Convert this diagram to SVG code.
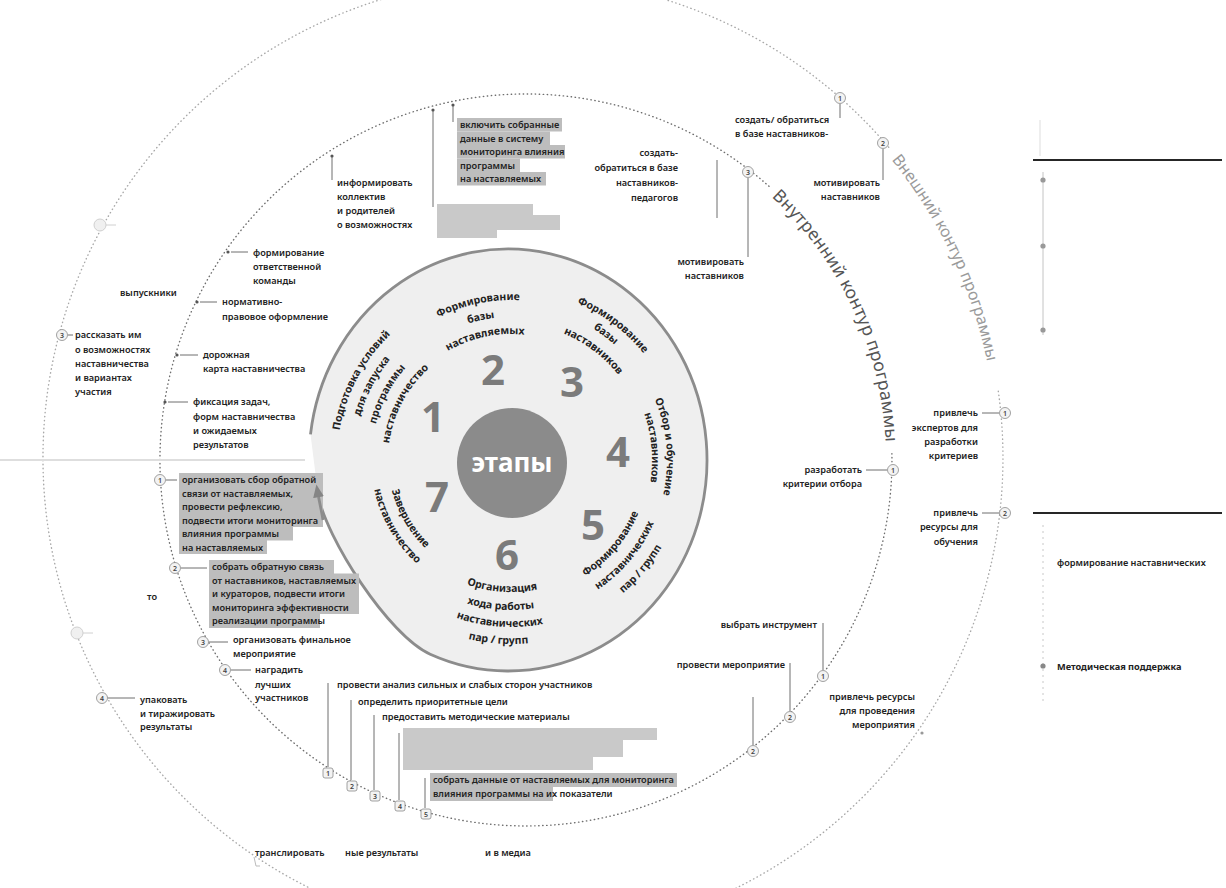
<svg xmlns="http://www.w3.org/2000/svg" width="1226" height="888" viewBox="0 0 1226 888">
<defs>
<style>
text{font-family:'Noto Sans','Open Sans','DejaVu Sans',sans-serif;fill:#222}
.t{font-size:9.2px;font-weight:600}
.e{text-anchor:end}
.st{font-size:10.5px;font-weight:700;text-anchor:middle}
.num{font-size:42px;font-weight:700;fill:#7b7b7b;text-anchor:middle}
.ln{stroke:#6f6f6f;stroke-width:1;fill:none}
.hl{fill:#bdbdbd}
.rd{fill:#c9c9c9}
.cn circle,.cn rect{fill:#f3f3f3;stroke:#8a8a8a;stroke-width:0.8}
.cn text{font-size:7px;font-weight:600;text-anchor:middle;fill:#444}
.dot{fill:#555}
.dotted{fill:none;stroke-linecap:round;stroke-dasharray:0.4 3.6}
.faint{fill:#f0f0f0;stroke:#d0d0d0;stroke-width:1}
</style>
<marker id="ah" viewBox="0 0 12 10" refX="3" refY="5" markerWidth="13" markerHeight="11" markerUnits="userSpaceOnUse" orient="auto">
<path d="M0,0 L12,5 L0,10 Z" fill="#858585"/>
</marker>
<path id="s1a" d="M381.7 576.4 A174 174 0 0 1 535.2 287.7"/>
<path id="s1b" d="M394.3 565.1 A157 157 0 0 1 532.9 304.5"/>
<path id="s1c" d="M407.0 553.7 A140 140 0 0 1 530.5 321.4"/>
<path id="s1d" d="M419.6 542.3 A123 123 0 0 1 528.1 338.2"/>
<path id="s2a" d="M352.6 437.7 A160 160 0 0 1 646.7 375.2"/>
<path id="s2b" d="M369.4 440.1 A143 143 0 0 1 632.3 384.2"/>
<path id="s2c" d="M386.2 442.5 A126 126 0 0 1 617.8 393.2"/>
<path id="s3a" d="M418.4 317.4 A170 170 0 0 1 673.6 509.7"/>
<path id="s3b" d="M426.6 330.0 A155 155 0 0 1 659.2 505.3"/>
<path id="s3c" d="M436.4 345.1 A137 137 0 0 1 642.0 500.1"/>
<path id="s4a" d="M551.4 309.3 A156 156 0 0 1 576.9 601.4"/>
<path id="s4b" d="M547.5 323.8 A141 141 0 0 1 570.6 587.8"/>
<path id="s5a" d="M463.8 589.7 A138 138 0 0 0 630.5 391"/>
<path id="s5b" d="M457.6 606.6 A156 156 0 0 0 646.1 382"/>
<path id="s5c" d="M451.5 623.5 A174 174 0 0 0 661.7 373"/>
<path id="s6a" d="M384.1 496.4 A132 132 0 0 0 631.6 513.7"/>
<path id="s6b" d="M366.8 501.3 A150 150 0 0 0 648.0 521.0"/>
<path id="s6c" d="M350.5 506.0 A167 167 0 0 0 663.6 527.9"/>
<path id="s6d" d="M334.1 510.7 A184 184 0 0 0 679.1 534.8"/>
<path id="s7a" d="M416.8 380.9 A123 123 0 0 0 532.4 581.1"/>
<path id="s7b" d="M403.8 370.0 A140 140 0 0 0 535.3 597.9"/>
<path id="inC" d="M771.5 196.7 A360 360 0 0 1 864.3 583.1"/>
<path id="outC" d="M891.4 159.7 A474 474 0 0 1 968.4 620.1"/>
</defs>

<rect width="1226" height="888" fill="#ffffff"/>

<g id="outer-contour">
<path class="dotted" d="M998.3 391.2 A480 480 0 1 1 890.7 149.5" stroke="#a8a8a8" stroke-width="1.4"/>
<text font-size="16" style="fill:#9a9a9a"><textPath href="#outC">Внешний контур программы</textPath></text>
</g>
<g id="inner-contour">
<path class="dotted" d="M891.9 453.6 A366 366 0 1 1 770.9 188.0" stroke="#6e6e6e" stroke-width="1.4"/>
<text font-size="17.5" letter-spacing="0.3" style="fill:#555"><textPath href="#inC">Внутренний контур программы</textPath></text>
</g>

<line x1="0" y1="460" x2="305" y2="460" stroke="#dedede" stroke-width="2"/>

<g id="stages">
<path d="M310.5 434.3 A199 211 0 1 1 430.2 654.2 C389 636 325 537 318 494 Z" fill="#efefef"/>
<path d="M310.5 434.3 A199 211 0 1 1 430.2 654.2 C389 636 325 537 318 494" fill="none" stroke="#8c8c8c" stroke-width="2.8"/>
<circle cx="512" cy="463" r="55" fill="#8b8b8b"/>
<text x="512" y="472" font-size="26" font-weight="700" text-anchor="middle" style="fill:#fff">этапы</text>
<text class="num" x="433" y="432">1</text>
<text class="num" x="493" y="385">2</text>
<text class="num" x="572" y="397">3</text>
<text class="num" x="618" y="467">4</text>
<text class="num" x="593" y="540">5</text>
<text class="num" x="507" y="570">6</text>
<text class="num" x="437" y="512">7</text>
</g>

<g id="stage-1"><text class="st"><textPath href="#s1a" startOffset="50%">Подготовка условий</textPath></text>
<text class="st"><textPath href="#s1b" startOffset="50%">для запуска</textPath></text>
<text class="st"><textPath href="#s1c" startOffset="50%">программы</textPath></text>
<text class="st"><textPath href="#s1d" startOffset="50%">наставничество</textPath></text></g>
<g id="stage-2"><text class="st"><textPath href="#s2a" startOffset="50%">Формирование</textPath></text>
<text class="st"><textPath href="#s2b" startOffset="50%">базы</textPath></text>
<text class="st"><textPath href="#s2c" startOffset="50%">наставляемых</textPath></text></g>
<g id="stage-3"><text class="st"><textPath href="#s3a" startOffset="50%">Формирование</textPath></text>
<text class="st"><textPath href="#s3b" startOffset="50%">базы</textPath></text>
<text class="st"><textPath href="#s3c" startOffset="50%">наставников</textPath></text></g>
<g id="stage-4"><text class="st"><textPath href="#s4a" startOffset="50%">Отбор и обучение</textPath></text>
<text class="st"><textPath href="#s4b" startOffset="50%">наставников</textPath></text></g>
<g id="stage-5"><text class="st"><textPath href="#s5a" startOffset="50%">Формирование</textPath></text>
<text class="st"><textPath href="#s5b" startOffset="50%">наставнических</textPath></text>
<text class="st"><textPath href="#s5c" startOffset="50%">пар / групп</textPath></text></g>
<g id="stage-6"><text class="st"><textPath href="#s6a" startOffset="50%">Организация</textPath></text>
<text class="st"><textPath href="#s6b" startOffset="50%">хода работы</textPath></text>
<text class="st"><textPath href="#s6c" startOffset="50%">наставнических</textPath></text>
<text class="st"><textPath href="#s6d" startOffset="50%">пар / групп</textPath></text></g>
<g id="stage-7"><text class="st"><textPath href="#s7a" startOffset="50%">Завершение</textPath></text>
<text class="st"><textPath href="#s7b" startOffset="50%">наставничество</textPath></text></g>

<g id="connectors">
<line class="ln" x1="332" y1="157" x2="332" y2="180"/>
<line class="ln" x1="433" y1="111" x2="433" y2="207"/>
<line class="ln" x1="453" y1="106" x2="453" y2="122"/>
<line class="ln" x1="717" y1="160" x2="717" y2="218"/>
<line class="ln" x1="840" y1="104" x2="840" y2="118"/>
<line class="ln" x1="883" y1="149" x2="883" y2="180"/>
<line class="ln" x1="748" y1="178" x2="748" y2="257"/>
<line class="ln" x1="231" y1="252" x2="248" y2="252"/>
<line class="ln" x1="200" y1="302" x2="217" y2="302"/>
<line class="ln" x1="180" y1="355" x2="198" y2="355"/>
<line class="ln" x1="168" y1="402" x2="188" y2="402"/>
<line class="ln" x1="68" y1="335" x2="73" y2="335"/>
<line class="ln" x1="166" y1="480" x2="177" y2="480"/>
<line class="ln" x1="181" y1="568" x2="207" y2="568"/>
<line class="ln" x1="209" y1="642" x2="228" y2="642"/>
<line class="ln" x1="231" y1="670" x2="251" y2="670"/>
<line class="ln" x1="108" y1="698" x2="135" y2="698"/>
<line class="ln" x1="328" y1="683" x2="328" y2="767"/>
<line class="ln" x1="351" y1="700" x2="351" y2="780"/>
<line class="ln" x1="374" y1="715" x2="374" y2="790"/>
<line class="ln" x1="399" y1="733" x2="399" y2="800"/>
<line class="ln" x1="425" y1="778" x2="425" y2="808"/>
<line class="ln" x1="823" y1="623" x2="823" y2="670"/>
<line class="ln" x1="790" y1="663" x2="790" y2="711"/>
<line class="ln" x1="753" y1="697" x2="753" y2="745"/>
<line class="ln" x1="866" y1="470" x2="887" y2="470"/>
<line class="ln" x1="982" y1="413" x2="999" y2="413"/>
<line class="ln" x1="982" y1="513" x2="999" y2="513"/>
<line x1="1033" y1="160" x2="1222" y2="160" stroke="#262626" stroke-width="2"/>
<line x1="1033" y1="513" x2="1222" y2="513" stroke="#262626" stroke-width="2"/>
<line x1="1043" y1="172" x2="1043" y2="335" stroke="#c4c4c4" stroke-width="1"/>
<line x1="1043" y1="525" x2="1043" y2="705" stroke="#c8c8c8" stroke-width="1" stroke-dasharray="2 4"/>
<line x1="1040" y1="120" x2="1040" y2="156" stroke="#dddddd" stroke-width="1"/>
<line x1="106" y1="225" x2="116" y2="225" stroke="#d0d0d0"/>
<line x1="83" y1="633" x2="93" y2="633" stroke="#d0d0d0"/>
<path d="M254 857 L256 866 L260 866" fill="none" stroke="#bbb" stroke-width="1"/>
</g>

<g id="markers">
<circle class="dot" cx="332" cy="156" r="1.6"/>
<circle class="dot" cx="433" cy="110" r="1.6"/>
<circle class="dot" cx="453" cy="105" r="1.6"/>
<circle class="dot" cx="228" cy="252" r="1.6"/>
<circle class="dot" cx="197" cy="302" r="1.6"/>
<circle class="dot" cx="177" cy="355" r="1.6"/>
<circle class="dot" cx="165" cy="402" r="1.6"/>
<circle cx="922" cy="733" r="1.6" fill="#999"/>
<circle cx="1043" cy="180" r="2.6" fill="#999"/>
<circle cx="1043" cy="246" r="2.6" fill="#999"/>
<circle cx="1043" cy="330" r="2.6" fill="#999"/>
<circle cx="1043" cy="666" r="2.6" fill="#888"/>
<circle class="faint" cx="100" cy="225" r="6"/>
<circle class="faint" cx="77" cy="633" r="6"/>
<g class="cn"><circle cx="840" cy="98" r="5.5"/><text x="840" y="100.5">1</text></g>
<g class="cn"><circle cx="883" cy="143" r="5.5"/><text x="883" y="145.5">2</text></g>
<g class="cn"><circle cx="748" cy="172" r="5.5"/><text x="748" y="174.5">3</text></g>
<g class="cn"><circle cx="62" cy="335" r="5.5"/><text x="62" y="337.5">3</text></g>
<g class="cn"><circle cx="160" cy="480" r="5.5"/><text x="160" y="482.5">1</text></g>
<g class="cn"><circle cx="175" cy="568" r="5.5"/><text x="175" y="570.5">2</text></g>
<g class="cn"><circle cx="203" cy="642" r="5.5"/><text x="203" y="644.5">3</text></g>
<g class="cn"><circle cx="225" cy="670" r="5.5"/><text x="225" y="672.5">4</text></g>
<g class="cn"><circle cx="102" cy="698" r="5.5"/><text x="102" y="700.5">4</text></g>
<g class="cn"><rect x="323" y="768" width="10" height="10" rx="2"/><text x="328" y="775.5">1</text></g>
<g class="cn"><rect x="347" y="781" width="10" height="10" rx="2"/><text x="352" y="788.5">2</text></g>
<g class="cn"><rect x="370" y="791" width="10" height="10" rx="2"/><text x="375" y="798.5">3</text></g>
<g class="cn"><rect x="395" y="801" width="10" height="10" rx="2"/><text x="400" y="808.5">4</text></g>
<g class="cn"><rect x="421" y="809" width="10" height="10" rx="2"/><text x="426" y="816.5">5</text></g>
<g class="cn"><circle cx="823" cy="676" r="5.5"/><text x="823" y="678.5">1</text></g>
<g class="cn"><circle cx="790" cy="717" r="5.5"/><text x="790" y="719.5">2</text></g>
<g class="cn"><circle cx="753" cy="751" r="5.5"/><text x="753" y="753.5">2</text></g>
<g class="cn"><circle cx="893" cy="470" r="5.5"/><text x="893" y="472.5">1</text></g>
<g class="cn"><circle cx="1005" cy="413" r="5.5"/><text x="1005" y="415.5">1</text></g>
<g class="cn"><circle cx="1005" cy="513" r="5.5"/><text x="1005" y="515.5">2</text></g>
</g>

<g id="redacted">
<path class="rd" d="M437 204 H533 V215 H560 V230 H497 V238 H437 Z"/>
<path class="rd" d="M403 728 H657 V740 H623 V757 H593 V770 H403 Z"/>
</g>

<g id="n-inform"><text class="t" x="337" y="186"><tspan x="337">информировать</tspan><tspan x="337" dy="14">коллектив</tspan><tspan x="337" dy="14">и родителей</tspan><tspan x="337" dy="14">о возможностях</tspan></text></g>

<g id="n-include">
<rect class="hl" x="457" y="118" width="105" height="13.5"/>
<rect class="hl" x="457" y="131.5" width="93" height="13.5"/>
<rect class="hl" x="457" y="145" width="108" height="13.5"/>
<rect class="hl" x="457" y="158.5" width="63" height="13.5"/>
<rect class="hl" x="457" y="172" width="89" height="13.5"/>
<text class="t" x="460" y="128"><tspan x="460">включить собранные</tspan><tspan x="460" dy="13.5">данные в систему</tspan><tspan x="460" dy="13.5">мониторинга влияния</tspan><tspan x="460" dy="13.5">программы</tspan><tspan x="460" dy="13.5">на наставляемых</tspan></text>
</g>

<g id="n-create-inner"><text class="t e" x="678" y="156"><tspan x="678">создать-</tspan><tspan x="678" dy="15">обратиться в базе</tspan><tspan x="678" dy="15">наставников-</tspan><tspan x="678" dy="15">педагогов</tspan></text></g>
<g id="n-create-outer"><text class="t" x="735" y="123"><tspan x="735">создать/ обратиться</tspan><tspan x="735" dy="14">в базе наставников-</tspan></text></g>
<g id="n-motivate-outer"><text class="t e" x="880" y="186"><tspan x="880">мотивировать</tspan><tspan x="880" dy="14">наставников</tspan></text></g>
<g id="n-motivate-inner"><text class="t e" x="744" y="265"><tspan x="744">мотивировать</tspan><tspan x="744" dy="14">наставников</tspan></text></g>

<g id="n-team"><text class="t" x="253" y="256"><tspan x="253">формирование</tspan><tspan x="253" dy="14">ответственной</tspan><tspan x="253" dy="14">команды</tspan></text></g>
<g id="n-norm"><text class="t" x="222" y="305"><tspan x="222">нормативно-</tspan><tspan x="222" dy="15">правовое оформление</tspan></text></g>
<g id="n-road"><text class="t" x="203" y="358"><tspan x="203">дорожная</tspan><tspan x="203" dy="14">карта наставничества</tspan></text></g>
<g id="n-fix"><text class="t" x="193" y="405"><tspan x="193">фиксация задач,</tspan><tspan x="193" dy="14.5">форм наставничества</tspan><tspan x="193" dy="14">и ожидаемых</tspan><tspan x="193" dy="14">результатов</tspan></text></g>
<g id="n-grad"><text class="t" x="120" y="296">выпускники</text></g>
<g id="n-tell"><text class="t" x="75" y="338"><tspan x="75">рассказать им</tspan><tspan x="75" dy="14.5">о возможностях</tspan><tspan x="75" dy="14">наставничества</tspan><tspan x="75" dy="14">и вариантах</tspan><tspan x="75" dy="14">участия</tspan></text></g>

<g id="n-feedback1">
<path class="hl" d="M179 473 H323 V527 H293 V540.5 H267 V554 H179 Z"/>
<text class="t" x="182" y="483"><tspan x="182">организовать сбор обратной</tspan><tspan x="182" dy="13.6">связи от наставляемых,</tspan><tspan x="182" dy="13.6">провести рефлексию,</tspan><tspan x="182" dy="13.6">подвести итоги мониторинга</tspan><tspan x="182" dy="13.6">влияния программы</tspan><tspan x="182" dy="13.6">на наставляемых</tspan></text>
</g>
<g id="n-feedback2">
<path class="hl" d="M209 560 H334 V573.5 H359 V614 H320 V628 H209 Z"/>
<text class="t" x="212" y="570"><tspan x="212">собрать обратную связь</tspan><tspan x="212" dy="13.6">от наставников, наставляемых</tspan><tspan x="212" dy="13.6">и кураторов, подвести итоги</tspan><tspan x="212" dy="13.6">мониторинга эффективности</tspan><tspan x="212" dy="13.6">реализации программы</tspan></text>
</g>
<g id="n-final"><text class="t" x="233" y="643"><tspan x="233">организовать финальное</tspan><tspan x="233" dy="14">мероприятие</tspan></text></g>
<g id="n-award"><text class="t" x="255" y="673"><tspan x="255">наградить</tspan><tspan x="255" dy="14.5">лучших</tspan><tspan x="255" dy="13.5">участников</tspan></text></g>
<g id="n-to"><text class="t" x="147" y="600">то</text></g>
<g id="n-pack"><text class="t" x="140" y="703"><tspan x="140">упаковать</tspan><tspan x="140" dy="13.5">и тиражировать</tspan><tspan x="140" dy="13">результаты</tspan></text></g>

<g id="n-analysis"><text class="t" x="337" y="688">провести анализ сильных и слабых сторон участников</text></g>
<g id="n-goals"><text class="t" x="358" y="705">определить приоритетные цели</text></g>
<g id="n-materials"><text class="t" x="382" y="720">предоставить методические материалы</text></g>
<g id="n-collect">
<path class="hl" d="M430 773 H677 V787 H553 V801 H430 Z"/>
<text class="t" x="433" y="783"><tspan x="433">собрать данные от наставляемых для мониторинга</tspan><tspan x="433" dy="14">влияния программы на их показатели</tspan></text>
</g>
<g id="n-broadcast"><text class="t" x="255" y="856">транслировать</text><text class="t" x="345" y="856">ные результаты</text><text class="t" x="485" y="856">и в медиа</text></g>

<g id="n-tool"><text class="t e" x="817" y="628">выбрать инструмент</text></g>
<g id="n-event"><text class="t e" x="785" y="668">провести мероприятие</text></g>
<g id="n-resources-event"><text class="t e" x="915" y="700"><tspan x="915">привлечь ресурсы</tspan><tspan x="915" dy="14">для проведения</tspan><tspan x="915" dy="14">мероприятия</tspan></text></g>
<g id="n-criteria"><text class="t e" x="862" y="473"><tspan x="862">разработать</tspan><tspan x="862" dy="14">критерии отбора</tspan></text></g>
<g id="n-experts"><text class="t e" x="978" y="416"><tspan x="978">привлечь</tspan><tspan x="978" dy="14.5">экспертов для</tspan><tspan x="978" dy="14.5">разработки</tspan><tspan x="978" dy="14">критериев</tspan></text></g>
<g id="n-resources-train"><text class="t e" x="978" y="516"><tspan x="978">привлечь</tspan><tspan x="978" dy="14">ресурсы для</tspan><tspan x="978" dy="14.5">обучения</tspan></text></g>

<g id="n-panel-1"><text class="t" x="1057" y="566">формирование наставнических</text></g>
<g id="n-panel-2"><text class="t" x="1057" y="670" style="font-weight:700">Методическая поддержка</text></g>

<g id="stage-arrow">
<path d="M323 520 C321 508 319 500 318 494" fill="none" stroke="#8c8c8c" stroke-width="2.8" marker-end="url(#ah)"/>
</g>
</svg>
